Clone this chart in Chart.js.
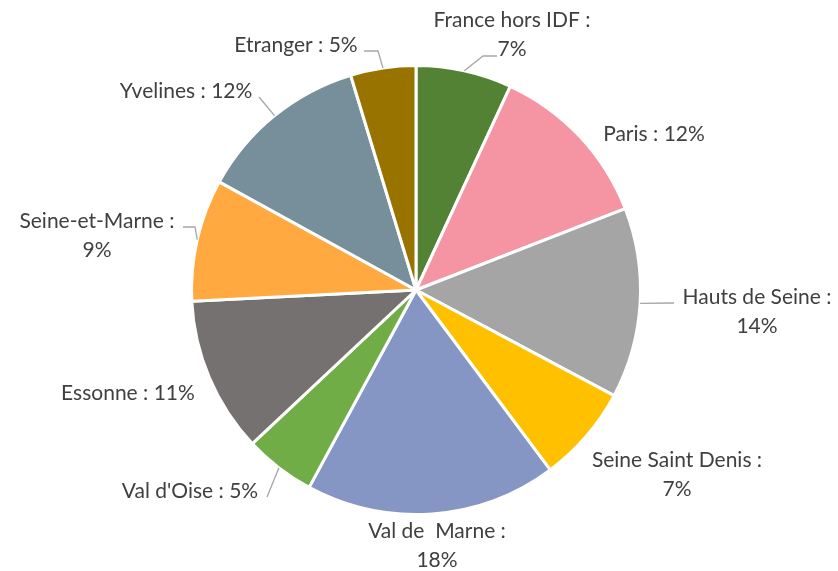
<!DOCTYPE html>
<html>
<head>
<meta charset="utf-8">
<script src="https://cdn.jsdelivr.net/npm/chart.js@4"></script>
<style>
  html, body { margin: 0; padding: 0; background: #fff; }
  #wrap { width: 838px; height: 571px; position: relative; }
</style>
</head>
<body>
<div id="wrap"><canvas id="pie" width="838" height="571"></canvas></div>
<script>
// Share of each origin (%), clockwise from 12 o'clock
const origins = ['France hors IDF', 'Paris', 'Hauts de Seine', 'Seine Saint Denis', 'Val de  Marne',
                 "Val d'Oise", 'Essonne', 'Seine-et-Marne', 'Yvelines', 'Etranger'];
const shares = [6.9, 12.2, 13.7, 7.0, 18.1, 5.1, 11.2, 8.8, 12.3, 4.7];
// percentages as printed on the labels
const shownPct = [7, 12, 14, 7, 18, 5, 11, 9, 12, 5];
const colors = ['#548235', '#F595A4', '#A5A5A5', '#FFC000', '#8596C4',
                '#70AD47', '#767171', '#FFA940', '#778F9A', '#997300'];

// label placement (text centre, split on two lines or not, leader end points)
const labelLayout = [
  { x: 512, y: 20, two: true,  leader: [[483, 56], [497, 56]] },
  { x: 654, y: 134, two: false },
  { x: 757, y: 297, two: true,  leader: [[674, 303]] },
  { x: 677, y: 460, two: true },
  { x: 437, y: 531, two: true },
  { x: 190, y: 491, two: false, leader: [[267, 497]] },
  { x: 128, y: 393, two: false },
  { x: 97,  y: 221, two: true,  leader: [[195, 227], [183, 227]] },
  { x: 186, y: 91,  two: false, leader: [[259, 97]] },
  { x: 296, y: 45,  two: false, leader: [[378, 51], [364, 51]] }
];

const pieLabels = {
  id: 'pieLabels',
  afterDraw(chart) {
    const ctx = chart.ctx;
    const arcs = chart.getDatasetMeta(0).data;
    ctx.save();
    // leader lines
    ctx.strokeStyle = '#A6A6A6';
    ctx.lineWidth = 1.3;
    arcs.forEach((arc, i) => {
      const lay = labelLayout[i];
      if (!lay.leader) return;
      const mid = (arc.startAngle + arc.endAngle) / 2;
      const sx = arc.x + Math.cos(mid) * arc.outerRadius;
      const sy = arc.y + Math.sin(mid) * arc.outerRadius;
      ctx.beginPath();
      ctx.moveTo(sx, sy);
      lay.leader.forEach(p => ctx.lineTo(p[0], p[1]));
      ctx.stroke();
    });
    // texts
    ctx.fillStyle = '#404040';
    ctx.font = '21px Lato';
    ctx.textAlign = 'center';
    ctx.textBaseline = 'middle';
    origins.forEach((name, i) => {
      const lay = labelLayout[i];
      if (lay.two) {
        ctx.fillText(name + ' :', lay.x, lay.y);
        ctx.fillText(shownPct[i] + '%', lay.x, lay.y + 29);
      } else {
        ctx.fillText(name + ' : ' + shownPct[i] + '%', lay.x, lay.y);
      }
    });
    ctx.restore();
  }
};

new Chart(document.getElementById('pie'), {
  type: 'pie',
  data: {
    labels: origins,
    datasets: [{
      data: shares,
      backgroundColor: colors,
      borderColor: '#ffffff',
      borderWidth: 3
    }]
  },
  options: {
    responsive: false,
    animation: false,
    layout: { padding: { left: 190, right: 196, top: 64, bottom: 55 } },
    plugins: { legend: { display: false }, tooltip: { enabled: false } }
  },
  plugins: [pieLabels]
});
</script>
</body>
</html>
